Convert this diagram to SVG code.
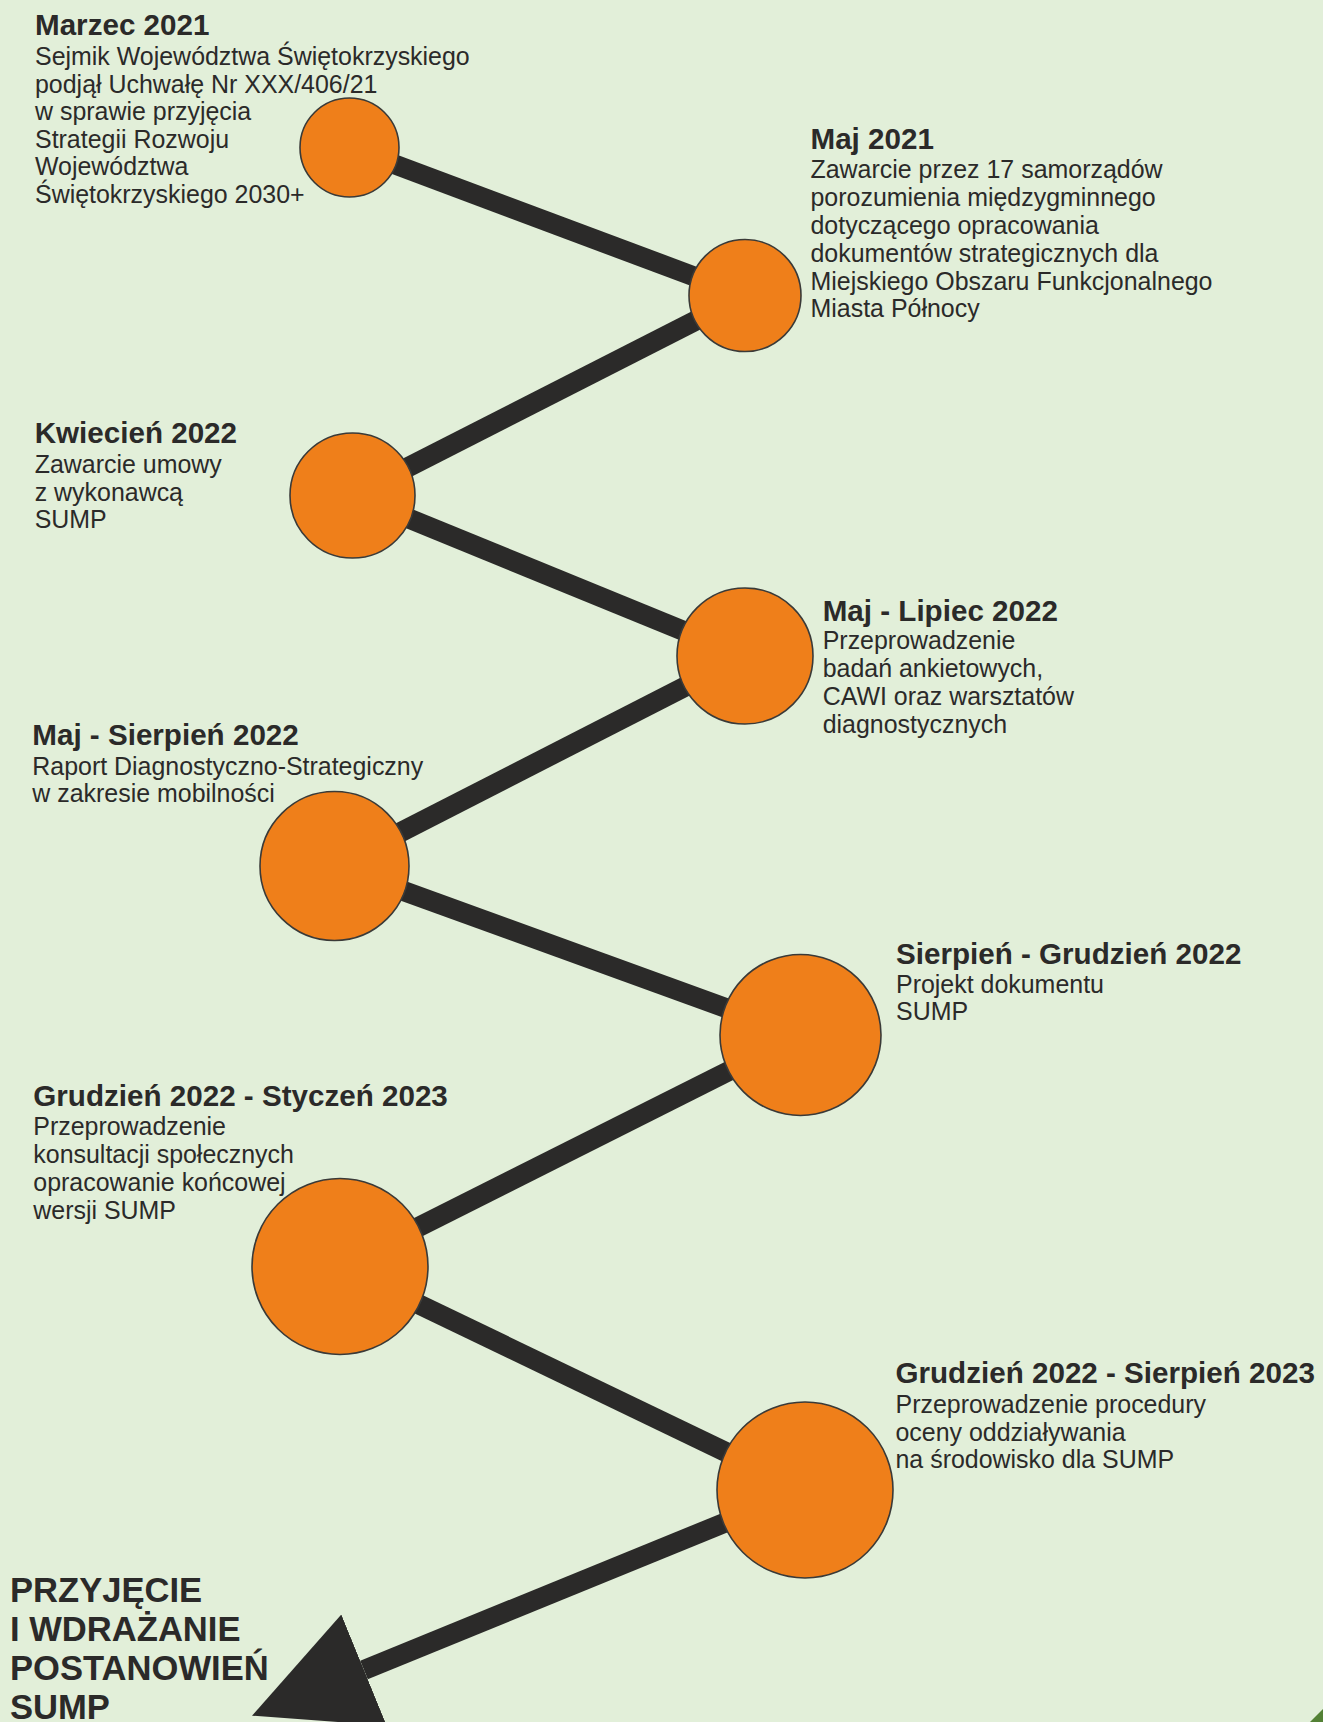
<svg xmlns="http://www.w3.org/2000/svg" width="1323" height="1722" viewBox="0 0 1323 1722">
<style>
.bg{fill:#e2efd9}
.conn{stroke:#2b2a29;stroke-width:20;stroke-linecap:butt;fill:none}
.node{fill:#ef7f1a;stroke:#3a3a38;stroke-width:1.6}
.t{font-family:"Liberation Sans",Arial,sans-serif;font-weight:bold;font-size:29.6px;fill:#2b2a29}
.b{font-family:"Liberation Sans",Arial,sans-serif;font-size:24.95px;fill:#2b2a29}
.end{font-family:"Liberation Sans",Arial,sans-serif;font-weight:bold;font-size:34.6px;fill:#2b2a29}
</style>
<defs>
<marker id="arrow" markerUnits="userSpaceOnUse" viewBox="0 -61 122 122" markerWidth="122" markerHeight="122" refX="0" refY="0" orient="auto">
<path d="M0,-60 L121,0 L0,60 Z" fill="#2b2a29"/>
</marker>
</defs>
<rect class="bg" x="0" y="0" width="1323" height="1722"/>
<polygon points="1310,1722 1323,1709 1323,1722" fill="#538135"/>
<g id="connectors">
<line class="conn" x1="349.5" y1="147.5" x2="745" y2="295.5"/>
<line class="conn" x1="745" y1="295.5" x2="352.5" y2="495.5"/>
<line class="conn" x1="352.5" y1="495.5" x2="745" y2="656"/>
<line class="conn" x1="745" y1="656" x2="334.5" y2="866"/>
<line class="conn" x1="334.5" y1="866" x2="800.5" y2="1035"/>
<line class="conn" x1="800.5" y1="1035" x2="340" y2="1266.5"/>
<line class="conn" x1="340" y1="1266.5" x2="805" y2="1490"/>
<line class="conn" x1="805" y1="1490" x2="364" y2="1670" marker-end="url(#arrow)"/>
</g>
<g id="node1">
<circle class="node" cx="349.5" cy="147.5" r="49.5"/>
<text class="t" x="35" y="35">Marzec 2021</text>
<text class="b" x="35"><tspan x="35" y="65">Sejmik Województwa Świętokrzyskiego</tspan><tspan x="35" y="92.6">podjął Uchwałę Nr XXX/406/21</tspan><tspan x="35" y="120.2">w sprawie przyjęcia</tspan><tspan x="35" y="147.8">Strategii Rozwoju</tspan><tspan x="35" y="175.4">Województwa</tspan><tspan x="35" y="203">Świętokrzyskiego 2030+</tspan></text>
</g>
<g id="node2">
<circle class="node" cx="745" cy="295.5" r="56"/>
<text class="t" x="810.5" y="149.3">Maj 2021</text>
<text class="b"><tspan x="810.5" y="178.3">Zawarcie przez 17 samorządów</tspan><tspan x="810.5" y="206.1">porozumienia międzygminnego</tspan><tspan x="810.5" y="233.9">dotyczącego opracowania</tspan><tspan x="810.5" y="261.7">dokumentów strategicznych dla</tspan><tspan x="810.5" y="289.5">Miejskiego Obszaru Funkcjonalnego</tspan><tspan x="810.5" y="317.3">Miasta Północy</tspan></text>
</g>
<g id="node3">
<circle class="node" cx="352.5" cy="495.5" r="62.5"/>
<text class="t" x="34.7" y="443.3">Kwiecień 2022</text>
<text class="b"><tspan x="34.7" y="472.7">Zawarcie umowy</tspan><tspan x="34.7" y="500.5">z wykonawcą</tspan><tspan x="34.7" y="528.3">SUMP</tspan></text>
</g>
<g id="node4">
<circle class="node" cx="745" cy="656" r="68"/>
<text class="t" x="822.7" y="620.7">Maj - Lipiec 2022</text>
<text class="b"><tspan x="822.7" y="649.3">Przeprowadzenie</tspan><tspan x="822.7" y="677.1">badań ankietowych,</tspan><tspan x="822.7" y="704.9">CAWI oraz warsztatów</tspan><tspan x="822.7" y="732.7">diagnostycznych</tspan></text>
</g>
<g id="node5">
<circle class="node" cx="334.5" cy="866" r="74.5"/>
<text class="t" x="32.3" y="745">Maj - Sierpień 2022</text>
<text class="b"><tspan x="32.3" y="775">Raport Diagnostyczno-Strategiczny</tspan><tspan x="32.3" y="802.2">w zakresie mobilności</tspan></text>
</g>
<g id="node6">
<circle class="node" cx="800.5" cy="1035" r="80.5"/>
<text class="t" x="896" y="964">Sierpień - Grudzień 2022</text>
<text class="b"><tspan x="896" y="992.7">Projekt dokumentu</tspan><tspan x="896" y="1020.3">SUMP</tspan></text>
</g>
<g id="node7">
<circle class="node" cx="340" cy="1266.5" r="88"/>
<text class="t" x="33.3" y="1106">Grudzień 2022 - Styczeń 2023</text>
<text class="b"><tspan x="33.3" y="1135">Przeprowadzenie</tspan><tspan x="33.3" y="1163">konsultacji społecznych</tspan><tspan x="33.3" y="1191">opracowanie końcowej</tspan><tspan x="33.3" y="1219">wersji SUMP</tspan></text>
</g>
<g id="node8">
<circle class="node" cx="805" cy="1490" r="88"/>
<text class="t" x="895.5" y="1383.3">Grudzień 2022 - Sierpień 2023</text>
<text class="b"><tspan x="895.5" y="1412.7">Przeprowadzenie procedury</tspan><tspan x="895.5" y="1440.5">oceny oddziaływania</tspan><tspan x="895.5" y="1468.3">na środowisko dla SUMP</tspan></text>
</g>
<g id="final">
<text class="end"><tspan x="10" y="1601.5">PRZYJĘCIE</tspan><tspan x="10" y="1640.8">I WDRAŻANIE</tspan><tspan x="10" y="1680.1">POSTANOWIEŃ</tspan><tspan x="10" y="1718.5">SUMP</tspan></text>
</g>
</svg>
